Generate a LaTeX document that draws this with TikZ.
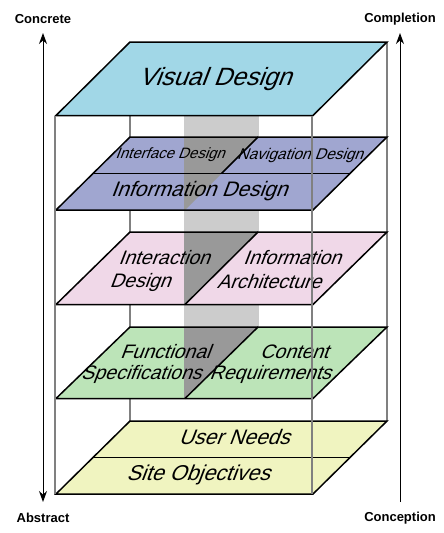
\documentclass[tikz,border=0pt]{standalone}
\usepackage{fontspec}
\setmainfont{Liberation Sans}
\newfontfamily\planefont[FakeSlant=0.38]{Liberation Sans}
\usetikzlibrary{arrows.meta}
\definecolor{visC}{RGB}{161,215,231}
\definecolor{infC}{RGB}{160,166,208}
\definecolor{pinkC}{RGB}{240,216,232}
\definecolor{greenC}{RGB}{188,228,184}
\definecolor{yelC}{RGB}{240,244,192}
\definecolor{bandC}{RGB}{204,204,204}
\definecolor{darkC}{RGB}{153,153,153}
\definecolor{postC}{RGB}{128,128,128}
\tikzset{
  post/.style={draw=postC,line width=1.5pt},
  planeedge/.style={draw=black,line width=1.5pt,line join=miter},
  ptext/.style={inner sep=0pt,font=\planefont\fontsize{#1}{#1}\selectfont},
  axislabel/.style={inner sep=0pt,font=\bfseries\fontsize{13}{14}\selectfont},
  axis/.style={draw=black,line width=1pt},
}
\begin{document}
\begin{tikzpicture}[x=1pt,y=-1pt]
\useasboundingbox (0,0) rectangle (444,533);
% back posts
\draw[post] (130,42) -- (130,421);
\draw[post] (387,42) -- (387,421);
% band
\fill[bandC] (184,115.5) rectangle (259,398.5);
% plane fills
\fill[visC] (130,42) -- (387,42) -- (313,115.5) -- (56,115.5) -- cycle;
\fill[infC] (130,137) -- (387,137) -- (313,210) -- (56,210) -- cycle;
\fill[pinkC] (130,232) -- (387,232) -- (313,304.5) -- (56,304.5) -- cycle;
\fill[greenC] (130,327) -- (387,327) -- (313,398.5) -- (56,398.5) -- cycle;
\fill[yelC] (130,421) -- (387,421) -- (313,494) -- (56,494) -- cycle;
% dark parts of the band
\fill[darkC] (184,137) -- (258,137) -- (185,210) -- (184,210) -- cycle;
\fill[darkC] (184,232) -- (258,232) -- (185,304.5) -- (184,304.5) -- cycle;
\fill[darkC] (184,327) -- (258,327) -- (185,398.5) -- (184,398.5) -- cycle;
% outlines
\draw[planeedge] (130,42) -- (387,42) -- (313,115.5) -- (56,115.5) -- cycle;
\draw[planeedge] (130,137) -- (387,137) -- (313,210) -- (56,210) -- cycle;
\draw[planeedge] (93,173.5) -- (350,173.5);
\draw[planeedge] (258,137) -- (221.5,173.5);
\draw[planeedge] (130,232) -- (387,232) -- (313,304.5) -- (56,304.5) -- cycle;
\draw[planeedge] (258,232) -- (185,304.5);
\draw[planeedge] (130,327) -- (387,327) -- (313,398.5) -- (56,398.5) -- cycle;
\draw[planeedge] (258,327) -- (185,398.5);
\draw[planeedge] (130,421) -- (387,421) -- (313,494) -- (56,494) -- cycle;
\draw[planeedge] (93,457.5) -- (350,457.5);
% texts
\node[ptext=25] (vis) at (215,79) {Visual Design};
\node[ptext=15] (ifd) at (170,155) {Interface Design};
\node[ptext=15.5] (nav) at (300,155) {Navigation Design};
\node[ptext=21] (inf) at (199,191) {Information Design};
\node[ptext=19.5] (ia1) at (164,257.5) {Interaction};
\node[ptext=19.5] (ia2) at (140,282) {Design};
\node[ptext=19.5] (ar1) at (292,257.5) {Information};
\node[ptext=19.5] (ar2) at (269,282) {Architecture};
\node[ptext=19.5] (fs1) at (165,352) {Functional};
\node[ptext=19.5] (fs2) at (141,374) {Specifications};
\node[ptext=19.5] (cr1) at (294,352) {Content};
\node[ptext=19.5] (cr2) at (270,374) {Requirements};
\node[ptext=21] (usr) at (234,437) {User Needs};
\node[ptext=21.5] (sit) at (198,475) {Site Objectives};
% front posts
\draw[post] (55,115.5) -- (55,494);
\draw[post] (312,115.5) -- (312,494);
% axes
\node[axislabel] (concrete) at (43,19) {Concrete};
\node[axislabel] (abstract) at (43,518) {Abstract};
\node[axislabel] (completion) at (400,19) {Completion};
\node[axislabel] (conception) at (400,518) {Conception};
\coordinate (ltop) at (43,33);
\coordinate (lbot) at (43,502);
\coordinate (rtop) at (400,33);
\coordinate (rbot) at (400,502);
\draw[axis,{Stealth[length=11pt,width=8pt]}-{Stealth[length=11pt,width=8pt]}] (ltop) -- (lbot);
\draw[axis,-{Stealth[length=11pt,width=8pt]}] (rbot) -- (rtop);
\end{tikzpicture}
\end{document}
